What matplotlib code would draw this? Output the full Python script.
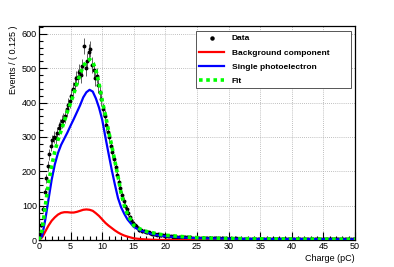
import matplotlib.pyplot as plt
import numpy as np
from matplotlib.lines import Line2D
from matplotlib.ticker import MultipleLocator

plt.rcParams["font.family"] = ["Liberation Sans", "DejaVu Sans"]

# binned data: one point every 0.25 pC, starting at 0.125
data_0_5 = [15, 45, 90, 140, 180, 215, 250, 275, 290, 300, 298, 310, 325, 335, 345, 350, 360, 380, 392, 405]
data_5_10 = [420, 440, 455, 470, 475, 490, 480, 505, 565, 500, 520, 548, 555, 510, 495, 470, 478, 450, 430, 410]
data_10_15 = [380, 360, 335, 315, 300, 275, 255, 235, 212, 190, 170, 150, 132, 115, 100, 90, 78, 66, 58, 50]
data_15_20 = [44, 40, 36, 30, 28, 27, 26, 24, 22, 22, 20, 19, 18, 17, 16, 17, 15, 14, 14, 13]
data_20_25 = [13, 12, 12, 11, 11, 10, 10, 9, 10, 9, 8, 8, 9, 8, 7, 8, 7, 7, 6, 7]
data_25_30 = [6, 7, 6, 6, 5, 6, 5, 6, 5, 5, 6, 5, 4, 5, 5, 4, 5, 4, 5, 4]
data_30_35 = [4, 5, 4, 4, 5, 4, 4, 3, 4, 4, 4, 3, 4, 4, 3, 4, 3, 4, 3, 3]
data_35_40 = [4, 3, 3, 4, 3, 3, 3, 4, 3, 3, 2, 3, 3, 4, 3, 3, 2, 3, 3, 3]
data_40_45 = [3, 2, 3, 3, 2, 3, 3, 2, 3, 2, 3, 3, 2, 3, 2, 2, 3, 2, 3, 2]
data_45_50 = [2, 3, 2, 2, 3, 2, 2, 3, 2, 2, 2, 3, 2, 2, 2, 2, 3, 2, 2, 2]

# fitted curves, sampled at these charges
curve_q = [0, 0.5, 1, 1.5, 2, 2.5, 3, 3.5, 4, 4.5, 5, 5.5, 6, 6.5, 7, 7.5, 8, 8.5, 9, 9.5,
           10, 10.5, 11, 11.5, 12, 12.5, 13, 13.5, 14, 15, 16, 17, 18, 19, 20, 22, 24, 26, 30, 35, 40, 45, 50]
background = [0, 8, 25, 42, 56, 66, 74, 79, 81, 81, 80, 80, 82, 85, 88, 89, 88, 85, 78, 70,
              60, 50, 42, 35, 28, 22, 17, 13, 10, 5, 3, 1.5, 0.8, 0.4, 0.2, 0, 0, 0, 0, 0, 0, 0, 0]
single_pe = [0, 12, 60, 118, 175, 220, 253, 277, 295, 313, 333, 352, 372, 392, 415, 430, 437, 432, 412, 385,
             350, 300, 252, 205, 162, 122, 95, 76, 60, 38, 28, 22, 17, 13, 11, 8, 6, 5, 4, 3, 3, 2.5, 2]
fit = [0, 30, 100, 165, 215, 258, 291, 318, 345, 374, 398, 425, 455, 482, 505, 520, 526, 518, 495, 455,
       405, 365, 318, 275, 230, 185, 135, 100, 75, 42, 32, 25, 21, 17, 14, 11, 8, 6, 4.5, 3.5, 3, 2.6, 2.2]

counts = np.array(data_0_5 + data_5_10 + data_10_15 + data_15_20 + data_20_25
                  + data_25_30 + data_30_35 + data_35_40 + data_40_45 + data_45_50, dtype=float)
charge = 0.125 + 0.25 * np.arange(len(counts))

fig = plt.figure(figsize=(3.94, 2.67), dpi=100)
ax = fig.add_axes([0.099, 0.101, 0.802, 0.802])

ax.errorbar(charge, counts, yerr=np.sqrt(counts), xerr=0.0625, fmt="o", ms=1.8,
            color="black", ecolor="#222222", elinewidth=0.5, capsize=0, zorder=2)
ax.plot(curve_q, background, color="red", lw=1.6, zorder=3)
ax.plot(curve_q, single_pe, color="blue", lw=1.6, zorder=4)
ax.plot(curve_q, fit, color="#00ff00", lw=2.6, ls=(0, (1, 1)), zorder=5)

ax.set_xlim(0, 50)
ax.set_ylim(0, 623)
ax.xaxis.set_major_locator(MultipleLocator(5))
ax.xaxis.set_minor_locator(MultipleLocator(1))
ax.yaxis.set_major_locator(MultipleLocator(100))
ax.yaxis.set_minor_locator(MultipleLocator(20))
ax.tick_params(which="both", direction="in", labelsize=6.5, pad=1.5, width=0.8)
ax.tick_params(which="major", length=6)
ax.tick_params(which="minor", length=3)
ax.grid(True, which="major", color="#aaaaaa", ls=(0, (1, 1.5)), lw=0.6)
for s in ax.spines.values():
    s.set_linewidth(0.9)

ax.set_xlabel("Charge (pC)", fontsize=6.5, loc="right", labelpad=2)
ax.set_ylabel("Events / ( 0.125 )", fontsize=6.5, loc="top", labelpad=3)

handles = [
    Line2D([], [], marker="o", ms=2.2, color="black", ls="none"),
    Line2D([], [], color="red", lw=1.6),
    Line2D([], [], color="blue", lw=1.6),
    Line2D([], [], color="#00ff00", lw=2.6, ls=(0, (1, 1))),
]
labels = ["Data", "Background component", "Single photoelectron", "Fit"]
leg = ax.legend(handles, labels, loc="upper left", bbox_to_anchor=(0.497, 0.715, 0.49, 0.26),
                mode="expand", prop={"size": 6, "weight": "bold"}, handlelength=3.0,
                handletextpad=0.9, labelspacing=0.75, borderpad=0.4, borderaxespad=0,
                fancybox=False, framealpha=1, edgecolor="#555555")
leg.get_frame().set_linewidth(0.7)

fig.savefig("out.png", dpi=100)
